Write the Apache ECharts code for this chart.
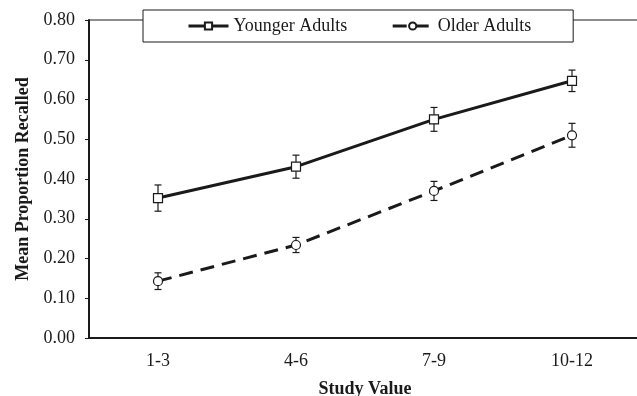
<!DOCTYPE html>
<html>
<head>
<meta charset="utf-8">
<script src="https://cdn.jsdelivr.net/npm/echarts@6/dist/echarts.min.js"></script>
<style>
  html, body { margin: 0; padding: 0; background: #fff; }
  #chart { width: 637px; height: 396px; }
</style>
</head>
<body>
<div id="chart"></div>
<script>
var categories = ["1-3", "4-6", "7-9", "10-12"];
var youngerMeans = [0.352, 0.431, 0.550, 0.647];
var youngerErr = [0.033, 0.029, 0.030, 0.027];
var olderMeans = [0.143, 0.234, 0.370, 0.510];
var olderErr = [0.021, 0.019, 0.024, 0.030];

var font = "Liberation Serif";
var ink = "#1a1a1a";

// [index, low, high] for the error bars
function errData(means, errs) {
  return means.map(function (m, i) {
    return [i, m - errs[i], m + errs[i]];
  });
}

function renderErr(params, api) {
  var x = api.value(0);
  var lo = api.coord([x, api.value(1)]);
  var hi = api.coord([x, api.value(2)]);
  var cap = 3.5;
  var style = { stroke: ink, lineWidth: 1.2 };
  return {
    type: "group",
    children: [
      { type: "line", shape: { x1: lo[0], y1: lo[1], x2: hi[0], y2: hi[1] }, style: style },
      { type: "line", shape: { x1: lo[0] - cap, y1: lo[1], x2: lo[0] + cap, y2: lo[1] }, style: style },
      { type: "line", shape: { x1: hi[0] - cap, y1: hi[1], x2: hi[0] + cap, y2: hi[1] }, style: style }
    ]
  };
}

var chart = echarts.init(document.getElementById("chart"));
chart.setOption({
  animation: false,
  textStyle: { fontFamily: font },
  grid: {
    left: 89, top: 20, width: 552, bottom: 58,
    outerBoundsMode: "none",
    containLabel: false,
    show: true, borderColor: ink, borderWidth: 1
  },
  legend: {
    data: ["Younger Adults", "Older Adults"],
    left: 143, top: 10,
    padding: [7, 42, 7, 44],
    itemGap: 44,
    itemWidth: 40,
    itemHeight: 9,
    lineStyle: { width: 3 },
    backgroundColor: "#fff",
    borderColor: ink,
    borderWidth: 1,
    textStyle: { fontFamily: font, fontSize: 18, color: ink }
  },
  xAxis: {
    type: "category",
    data: categories,
    boundaryGap: true,
    axisLine: { lineStyle: { color: ink, width: 2 } },
    axisTick: { show: false },
    axisLabel: { fontFamily: font, fontSize: 18, color: ink, margin: 14 },
    name: "Study Value",
    nameLocation: "middle",
    nameGap: 42,
    nameTextStyle: { fontFamily: font, fontSize: 18, fontWeight: "bold", color: ink }
  },
  yAxis: {
    type: "value",
    min: 0, max: 0.8, interval: 0.1,
    splitLine: { show: false },
    axisLine: { show: true, lineStyle: { color: ink, width: 2 } },
    axisTick: { show: true, length: 4, lineStyle: { color: ink } },
    axisLabel: {
      fontFamily: font, fontSize: 18, color: ink, margin: 14,
      formatter: function (v) { return v.toFixed(2); }
    },
    name: "Mean Proportion Recalled",
    nameLocation: "middle",
    nameGap: 57,
    nameTextStyle: { fontFamily: font, fontSize: 18, fontWeight: "bold", color: ink }
  },
  series: [
    {
      type: "custom",
      renderItem: renderErr,
      data: errData(youngerMeans, youngerErr),
      z: 1, silent: true
    },
    {
      type: "custom",
      renderItem: renderErr,
      data: errData(olderMeans, olderErr),
      z: 1, silent: true
    },
    {
      name: "Younger Adults",
      type: "line",
      data: youngerMeans,
      symbol: "rect",
      symbolSize: 9,
      z: 3,
      lineStyle: { color: ink, width: 3 },
      itemStyle: { color: "#fff", borderColor: ink, borderWidth: 1.2 }
    },
    {
      name: "Older Adults",
      type: "line",
      data: olderMeans,
      symbol: "circle",
      symbolSize: 9,
      z: 3,
      lineStyle: { color: ink, width: 3, type: [14, 8] },
      itemStyle: { color: "#fff", borderColor: ink, borderWidth: 1.2 }
    }
  ]
});
</script>
</body>
</html>
